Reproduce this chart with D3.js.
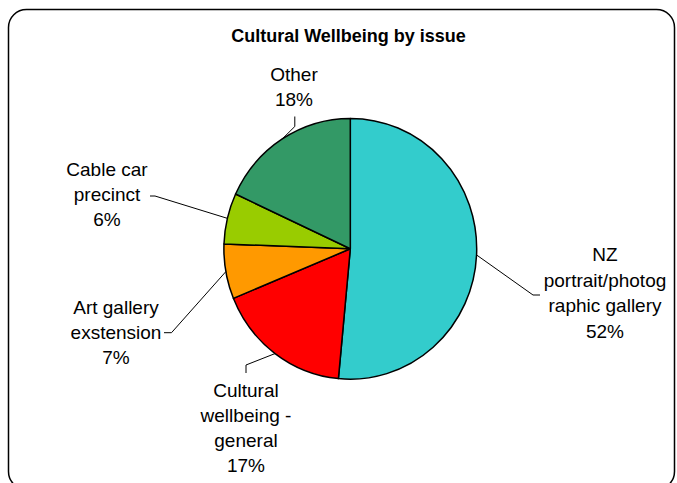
<!DOCTYPE html>
<html>
<head>
<meta charset="utf-8">
<script src="https://cdn.jsdelivr.net/npm/d3@7"></script>
<style>
  html, body { margin: 0; padding: 0; background: #fff; }
  text { font-family: "Liberation Sans", Arial, sans-serif; fill: #000; }
</style>
</head>
<body>
<svg id="chart" width="677" height="483"></svg>
<script>
// ---- data ----
const title = "Cultural Wellbeing by issue";
const categories = [
  "NZ portrait/photographic gallery",
  "Cultural wellbeing - general",
  "Art gallery exstension",
  "Cable car precinct",
  "Other"
];
const values = [51.5, 17.3, 6.8, 6.3, 18.1];
const labelLines = [
  ["NZ", "portrait/photog", "raphic gallery"],
  ["Cultural", "wellbeing -", "general"],
  ["Art gallery", "exstension"],
  ["Cable car", "precinct"],
  ["Other"]
];
const colors = ["#33CCCC", "#FF0000", "#FF9900", "#99CC00", "#339966"];

// ---- layout ----
const cx = 350.3, cy = 248.8, rx = 126.4, ry = 130.4;
// label block: center x, first baseline, line height, leader elbow points
const labelLayout = [
  { x: 605, y: 260.7, lh: 25.8, elbow: [[533, 295], [540, 295]] },
  { x: 246, y: 396.7, lh: 25,   elbow: [[246, 365], [246, 373]] },
  { x: 116, y: 314,   lh: 25,   elbow: [[171.5, 332.7], [164, 332.7]] },
  { x: 107, y: 175.7, lh: 25.2, elbow: [[155, 196], [150, 196]] },
  { x: 294, y: 80.7,  lh: 25,   elbow: [[294.8, 126.5], [294.8, 116.5]] }
];

const svg = d3.select("#chart");

svg.append("rect")
  .attr("x", 8.5).attr("y", 9.5)
  .attr("width", 666).attr("height", 480)
  .attr("rx", 18).attr("ry", 18)
  .attr("fill", "#fff")
  .attr("stroke", "#000")
  .attr("stroke-width", 1.5);

svg.append("text")
  .attr("x", 348.5).attr("y", 42.3)
  .attr("text-anchor", "middle")
  .attr("font-size", 18)
  .attr("font-weight", "bold")
  .text(title);

const total = d3.sum(values);
const pie = d3.pie().sort(null).value(d => d)(values);
const arc = d3.arc().innerRadius(0).outerRadius(ry);

const g = svg.append("g")
  .attr("transform", `translate(${cx},${cy}) scale(${rx / ry},1)`);

g.selectAll("path")
  .data(pie)
  .join("path")
  .attr("d", arc)
  .attr("fill", (d, i) => colors[i])
  .attr("stroke", "#000")
  .attr("stroke-width", 1.5)
  .attr("vector-effect", "non-scaling-stroke")
  .attr("stroke-linejoin", "round");

// leader lines
pie.forEach((d, i) => {
  const a = (d.startAngle + d.endAngle) / 2;
  const px = cx + rx * Math.sin(a);
  const py = cy - ry * Math.cos(a);
  const pts = [[px, py], ...labelLayout[i].elbow];
  svg.append("path")
    .attr("d", d3.line()(pts))
    .attr("fill", "none")
    .attr("stroke", "#000")
    .attr("stroke-width", 1);
});

// labels
categories.forEach((c, i) => {
  const L = labelLayout[i];
  const lines = [...labelLines[i], Math.round(values[i] / total * 100) + "%"];
  const t = svg.append("text")
    .attr("text-anchor", "middle")
    .attr("font-size", 19);
  lines.forEach((ln, k) => {
    t.append("tspan")
      .attr("x", L.x)
      .attr("y", L.y + k * L.lh)
      .text(ln);
  });
});
</script>
</body>
</html>
